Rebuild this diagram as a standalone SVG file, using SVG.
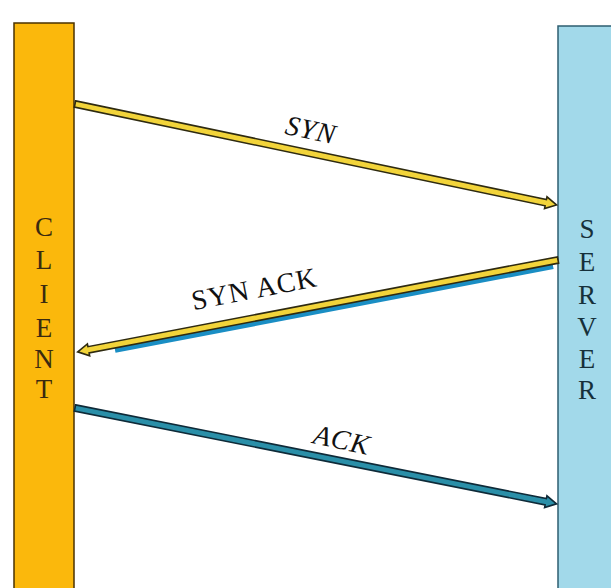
<svg xmlns="http://www.w3.org/2000/svg" width="611" height="588" viewBox="0 0 611 588">
<style>
.lbl{font-family:"Liberation Serif","Times New Roman",serif;font-size:28px;fill:#111;letter-spacing:1px}
.vt{font-family:"Liberation Serif","Times New Roman",serif;font-size:27px;fill:#3a2a10;text-anchor:middle}
.yel{fill:#f2d43a;stroke:#2e2a10;stroke-width:1.6;stroke-linejoin:miter}
.tea{fill:#2a8fa8;stroke:#0e2a38;stroke-width:1.6}
</style>
<rect width="611" height="588" fill="#ffffff"/>
<g id="client">
<rect x="14" y="23" width="60" height="570" fill="#fbb80c" stroke="#4a3200" stroke-width="1.5"/>
<text class="vt" x="44" y="236">C</text>
<text class="vt" x="44" y="269">L</text>
<text class="vt" x="44" y="303">I</text>
<text class="vt" x="44" y="337">E</text>
<text class="vt" x="44" y="368">N</text>
<text class="vt" x="44" y="398">T</text>
</g>
<g id="server">
<rect x="558" y="26" width="60" height="570" fill="#a2d9ea" stroke="#2e5e70" stroke-width="1.5"/>
<text class="vt" x="587" y="238" style="fill:#16303a">S</text>
<text class="vt" x="587" y="271" style="fill:#16303a">E</text>
<text class="vt" x="587" y="304" style="fill:#16303a">R</text>
<text class="vt" x="587" y="336" style="fill:#16303a">V</text>
<text class="vt" x="587" y="368" style="fill:#16303a">E</text>
<text class="vt" x="587" y="399" style="fill:#16303a">R</text>
</g>
<g id="connectors">
<g transform="translate(75,104) rotate(11.84)">
<polygon class="yel" points="0,-3.2 481,-3.2 481,-6 492,0 481,6 481,3.2 0,3.2"/>
</g>
<g transform="translate(558,260) rotate(169.17)">
<polygon points="6,0 452,0 452,-8 6,-8" fill="#1a8ec4"/>
<polygon class="yel" points="0,-3.2 478,-3.2 478,-6 489,0 478,6 478,3.2 0,3.2"/>
</g>
<g transform="translate(75,408) rotate(11.26)">
<polygon class="tea" points="0,-3.2 480,-3.2 480,-6 491,0 480,6 480,3.2 0,3.2"/>
</g>
</g>
<g id="labels">
<text class="lbl" font-style="italic" text-anchor="middle" transform="translate(309,139) rotate(12)">SYN</text>
<text class="lbl" text-anchor="middle" transform="translate(256,298) rotate(-11)">SYN ACK</text>
<text class="lbl" font-style="italic" text-anchor="middle" transform="translate(340,449) rotate(12)">ACK</text>
</g>
</svg>
